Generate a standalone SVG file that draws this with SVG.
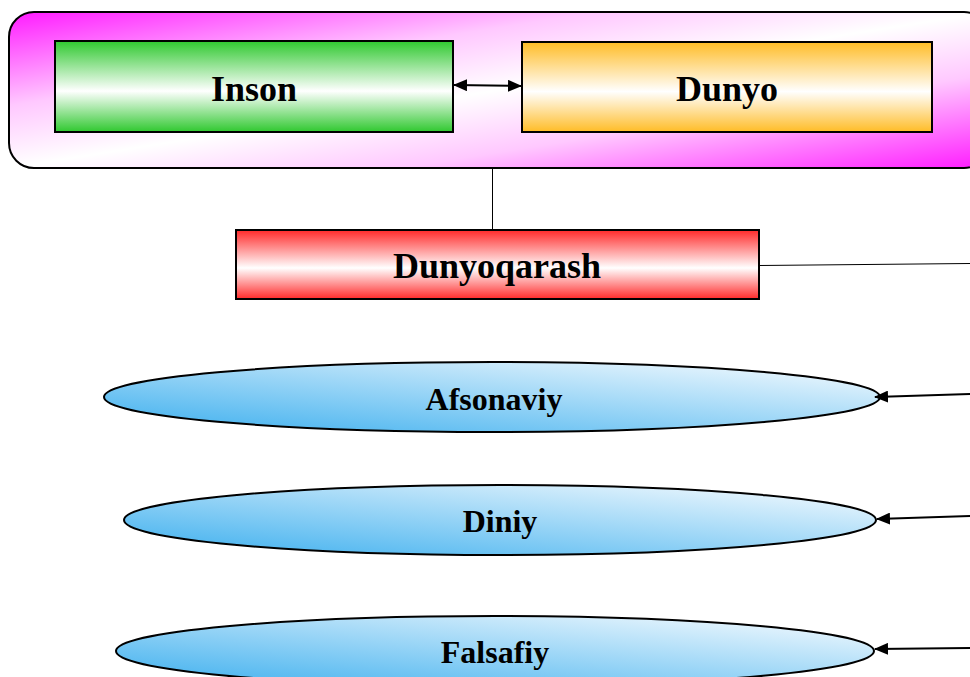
<svg xmlns="http://www.w3.org/2000/svg" width="970" height="677" viewBox="0 0 970 677">
<defs>
<linearGradient id="gOuter" x1="0" y1="0" x2="1" y2="1">
<stop offset="0" stop-color="#ff1aff"/>
<stop offset="0.3" stop-color="#ffc8ff"/>
<stop offset="0.5" stop-color="#ffffff"/>
<stop offset="0.7" stop-color="#ffc8ff"/>
<stop offset="1" stop-color="#ff1aff"/>
</linearGradient>
<linearGradient id="gGreen" x1="0" y1="0" x2="0" y2="1">
<stop offset="0" stop-color="#2fc82f"/>
<stop offset="0.55" stop-color="#ffffff"/>
<stop offset="1" stop-color="#2fc82f"/>
</linearGradient>
<linearGradient id="gOrange" x1="0" y1="0" x2="0" y2="1">
<stop offset="0" stop-color="#ffbc26"/>
<stop offset="0.55" stop-color="#ffffff"/>
<stop offset="1" stop-color="#ffbc26"/>
</linearGradient>
<linearGradient id="gRed" x1="0" y1="0" x2="0" y2="1">
<stop offset="0" stop-color="#ff2a2a"/>
<stop offset="0.55" stop-color="#ffffff"/>
<stop offset="1" stop-color="#ff2a2a"/>
</linearGradient>
<linearGradient id="gBlue" x1="0" y1="1" x2="1" y2="0">
<stop offset="0" stop-color="#3aaeee"/>
<stop offset="1" stop-color="#fbfdff"/>
</linearGradient>
<marker id="arr" viewBox="0 0 14 12" refX="13" refY="6" markerWidth="14" markerHeight="12" markerUnits="userSpaceOnUse" orient="auto-start-reverse">
<path d="M0,0 L14,6 L0,12 Z" fill="#000"/>
</marker>
<style>
.box{stroke:#000;stroke-width:2}
.t{font-family:"Liberation Serif","Times New Roman",serif;font-weight:bold;fill:#000;text-anchor:middle}
.big{font-size:36px}
.mid{font-size:32px}
.c{fill:none;stroke:#000;stroke-width:1}
.ca{fill:none;stroke:#000;stroke-width:2}
</style>
</defs>
<g id="outer">
<rect x="9" y="12" width="980" height="156" rx="25" ry="25" fill="url(#gOuter)" class="box"/>
</g>
<g id="inson">
<rect x="55" y="41" width="398" height="91" fill="url(#gGreen)" class="box"/>
<text x="254" y="101" class="t big">Inson</text>
</g>
<g id="dunyo">
<rect x="522" y="42" width="410" height="90" fill="url(#gOrange)" class="box"/>
<text x="727" y="101" class="t big">Dunyo</text>
</g>
<g id="dunyoqarash">
<rect x="236" y="230" width="523" height="69" fill="url(#gRed)" class="box"/>
<text x="497" y="278" class="t big">Dunyoqarash</text>
</g>
<g id="afsonaviy">
<ellipse cx="492" cy="397" rx="388" ry="35" fill="url(#gBlue)" class="box"/>
<text x="494" y="410" class="t mid">Afsonaviy</text>
</g>
<g id="diniy">
<ellipse cx="500" cy="520" rx="376" ry="35" fill="url(#gBlue)" class="box"/>
<text x="500" y="532" class="t mid">Diniy</text>
</g>
<g id="falsafiy">
<ellipse cx="495" cy="651" rx="379" ry="35" fill="url(#gBlue)" class="box"/>
<text x="495" y="663" class="t mid">Falsafiy</text>
</g>
<g id="connectors">
<line x1="454" y1="85" x2="521" y2="86" class="ca" marker-start="url(#arr)" marker-end="url(#arr)"/>
<line x1="492.5" y1="169" x2="492.5" y2="229" class="c"/>
<line x1="760" y1="265.5" x2="970" y2="263.5" class="c"/>
<line x1="972" y1="394" x2="875" y2="397" class="ca" marker-end="url(#arr)"/>
<line x1="972" y1="516" x2="877" y2="519" class="ca" marker-end="url(#arr)"/>
<line x1="972" y1="648" x2="875" y2="649" class="ca" marker-end="url(#arr)"/>
</g>
</svg>
